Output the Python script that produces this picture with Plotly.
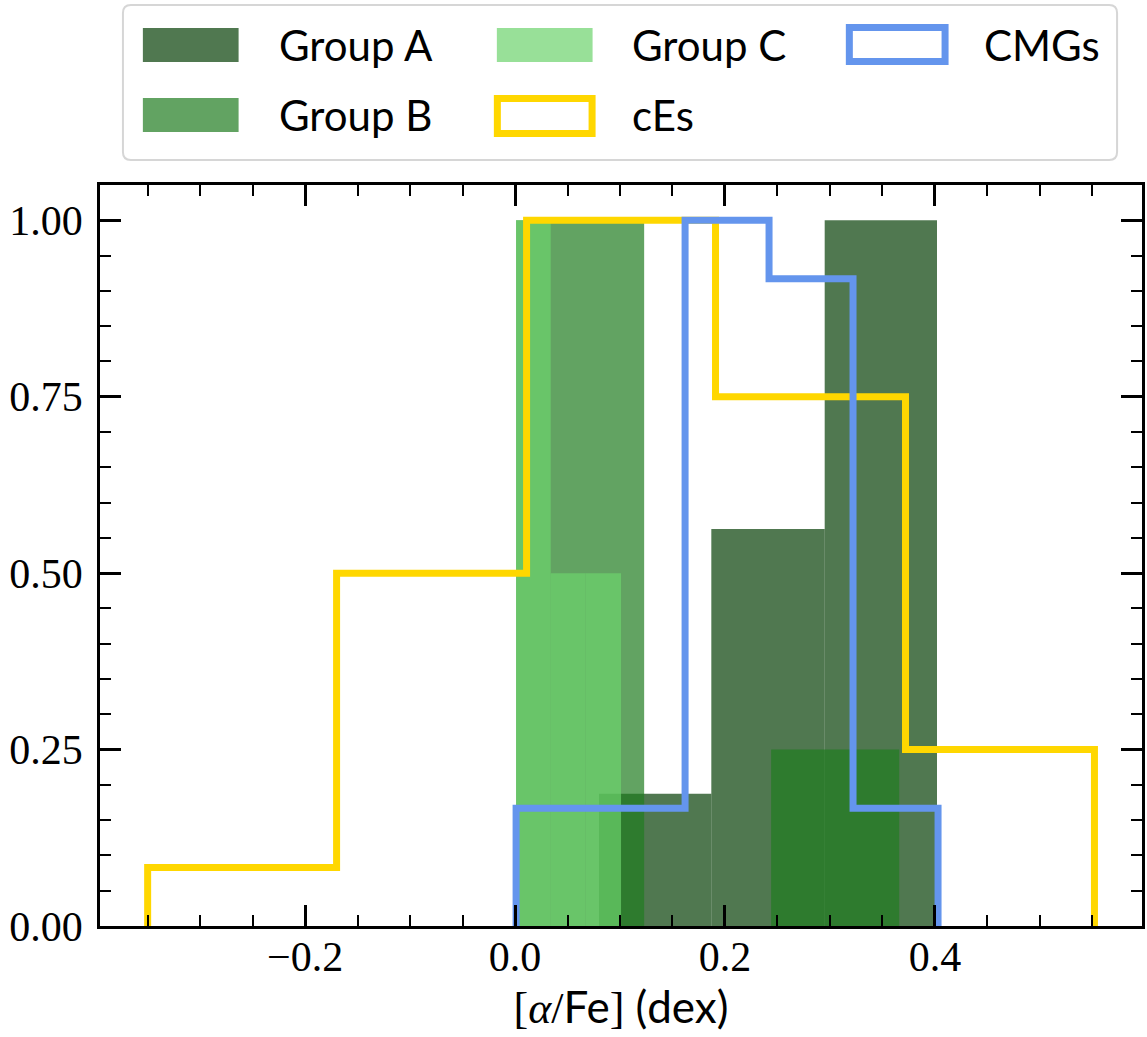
import plotly.graph_objects as go

# ---------------- data ----------------
groupA_edges = [0.080, 0.187, 0.295, 0.402]
groupA_heights = [0.1875, 0.5625, 1.0]

groupB_edges = [0.001, 0.123, 0.244, 0.366]
groupB_heights = [1.0, 0.0, 0.25]

groupC_edges = [0.001, 0.034, 0.067, 0.101]
groupC_heights = [1.0, 0.5, 0.5]

cEs_edges = [-0.350, -0.170, 0.011, 0.191, 0.372, 0.552]
cEs_heights = [0.083, 0.5, 1.0, 0.75, 0.25]

CMGs_edges = [0.001, 0.081, 0.162, 0.242, 0.322, 0.403]
CMGs_heights = [0.167, 0.167, 1.0, 0.917, 0.167]

x_ticks = [-0.2, 0.0, 0.2, 0.4]
y_ticks = [0.0, 0.25, 0.5, 0.75, 1.0]
x_range = [-0.3954, 0.5973]
y_range = [0, 1.05]

colA = "rgba(5,62,5,0.7)"
colB = "rgba(32,124,32,0.7)"
colC = "rgba(108,211,108,0.7)"
col_cEs = "#FFD700"
col_CMGs = "#6495ED"

W, H = 1147, 1037
L, R, T, B = 100, 2, 185, 111


def px(xp):
    return (xp - L) / (W - L - R)


def py(yp):
    return (H - B - yp) / (H - T - B)


fig = go.Figure()


def add_bars(edges, heights, color, name):
    centers = [(a + b) / 2 for a, b in zip(edges[:-1], edges[1:])]
    widths = [b - a for a, b in zip(edges[:-1], edges[1:])]
    fig.add_trace(go.Bar(x=centers, y=heights, width=widths, name=name,
                         marker=dict(color=color, line=dict(width=0)),
                         showlegend=False))


def add_step(edges, heights, color, name):
    xs = [edges[0]] + list(edges[:-1]) + [edges[-1]]
    ys = [0] + list(heights) + [0]
    fig.add_trace(go.Scatter(x=xs, y=ys, mode="lines", name=name,
                             line=dict(color=color, width=7, shape="hv"),
                             showlegend=False))


add_bars(groupA_edges, groupA_heights, colA, "Group A")
add_bars(groupB_edges, groupB_heights, colB, "Group B")
add_bars(groupC_edges, groupC_heights, colC, "Group C")
add_step(cEs_edges, cEs_heights, col_cEs, "cEs")
add_step(CMGs_edges, CMGs_heights, col_CMGs, "CMGs")
# empty trace that carries the mirrored (top / right) tick axes
fig.add_trace(go.Scatter(x=[], y=[], xaxis="x2", yaxis="y2", showlegend=False,
                         hoverinfo="skip"))

tickfont = dict(family="Liberation Serif", size=42, color="black")
minor_ticks = dict(ticks="inside", dtick=0.05, tick0=0, ticklen=11,
                   tickwidth=2.2, tickcolor="black", showgrid=False)
tick_common = dict(ticks="inside", ticklen=21, tickwidth=2.7, tickcolor="black",
                   showgrid=False, zeroline=False)

fig.update_layout(
    xaxis=dict(range=x_range, tickvals=x_ticks, tickformat=".1f",
               showline=True, linecolor="black", linewidth=2.7, mirror=True,
               tickfont=tickfont, ticklabelstandoff=-8, minor=minor_ticks,
               title=dict(text='[<i>α</i>/<span style="font-family:Lato">Fe</span>] '
                               '<span style="font-family:Lato">(dex)</span>',
                          font=dict(family="Liberation Serif", size=44, color="black"),
                          standoff=6),
               **tick_common),
    yaxis=dict(range=y_range, tickvals=y_ticks, tickformat=".2f",
               showline=True, linecolor="black", linewidth=2.7, mirror=True,
               tickfont=tickfont, ticklabelstandoff=6, minor=minor_ticks,
               **tick_common),
    xaxis2=dict(range=x_range, tickvals=x_ticks, overlaying="x", side="top",
                showticklabels=False, showline=False, minor=minor_ticks,
                **tick_common),
    yaxis2=dict(range=y_range, tickvals=y_ticks, overlaying="y", side="right",
                showticklabels=False, showline=False, minor=minor_ticks,
                **tick_common),
)

# ---------------- manual legend (large patches like the reference) ----------------
shapes = []
x0, x1, y0, y1, r = 123, 1120, 5, 160, 8
path = (f"M{px(x0 + r)},{py(y0)} L{px(x1 - r)},{py(y0)} Q{px(x1)},{py(y0)} {px(x1)},{py(y0 + r)} "
        f"L{px(x1)},{py(y1 - r)} Q{px(x1)},{py(y1)} {px(x1 - r)},{py(y1)} "
        f"L{px(x0 + r)},{py(y1)} Q{px(x0)},{py(y1)} {px(x0)},{py(y1 - r)} "
        f"L{px(x0)},{py(y0 + r)} Q{px(x0)},{py(y0)} {px(x0 + r)},{py(y0)} Z")
shapes.append(dict(type="path", xref="paper", yref="paper", path=path,
                   line=dict(color="#d6d6d6", width=2), fillcolor="white"))

legend_items = [
    ("Group A", "fill", colA, 143, 239, 28, 62, 278, 45),
    ("Group B", "fill", colB, 143, 239, 98, 132, 278, 115),
    ("Group C", "fill", colC, 498, 594, 28, 62, 632, 45),
    ("cEs", "line", col_cEs, 498.5, 593.5, 98.5, 133.5, 632, 115),
    ("CMGs", "line", col_CMGs, 851.5, 947.5, 27.5, 61.5, 985, 45),
]
annotations = []
for name, kind, color, ax0, ax1, ay0, ay1, tx, ty in legend_items:
    if kind == "fill":
        shapes.append(dict(type="rect", xref="paper", yref="paper",
                           x0=px(ax0), x1=px(ax1), y0=py(ay1), y1=py(ay0),
                           fillcolor=color, line=dict(width=0)))
    else:
        shapes.append(dict(type="rect", xref="paper", yref="paper",
                           x0=px(ax0), x1=px(ax1), y0=py(ay1), y1=py(ay0),
                           fillcolor="rgba(0,0,0,0)", line=dict(color=color, width=7)))
    annotations.append(dict(text=name, xref="paper", yref="paper", x=px(tx), y=py(ty),
                            xanchor="left", yanchor="middle", showarrow=False,
                            font=dict(family="Lato", size=42, color="black")))

fig.update_layout(width=W, height=H, autosize=False,
                  margin=dict(l=L, r=R, t=T, b=B, pad=0),
                  paper_bgcolor="white", plot_bgcolor="white",
                  barmode="overlay", showlegend=False,
                  shapes=shapes, annotations=annotations)

fig.write_html("out.html", config={"displayModeBar": False},
               post_script="document.body.style.margin='0';document.body.style.overflow='hidden';")
